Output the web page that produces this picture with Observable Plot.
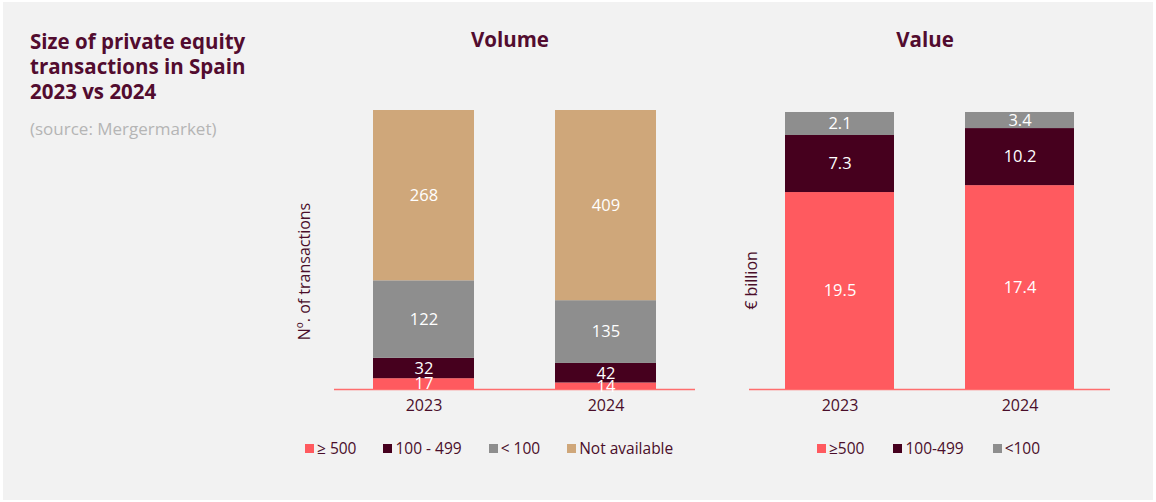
<!DOCTYPE html>
<html><head><meta charset="utf-8">
<script src="https://cdn.jsdelivr.net/npm/d3@7"></script>
<script src="https://cdn.jsdelivr.net/npm/@observablehq/plot@0.6"></script>
<style>
body{margin:0;background:#fff;font-family:"Open Sans",sans-serif;}
#wrap{position:relative;width:1156px;height:502px;overflow:hidden;}
#bg{position:absolute;left:3px;top:2px;width:1150px;height:498px;background:#f2f2f2;}
.abs{position:absolute;}
#title{left:30px;top:29px;font-size:20.5px;line-height:25px;font-weight:700;color:#520c2f;}
#source{left:30px;top:119px;font-size:17px;line-height:20px;color:#b5b5b5;}
.ptitle{width:200px;text-align:center;top:29px;font-size:20.5px;line-height:20.5px;font-weight:700;color:#520c2f;}
.legend{top:439px;display:flex;font-size:15.5px;line-height:18px;color:#4a0e2a;}
.legend .item{display:flex;align-items:center;gap:3px;white-space:nowrap;}
.legend .sw{width:9px;height:9px;display:inline-block;}
.panel svg{display:block;overflow:visible;}
</style></head><body>
<div id="wrap">
  <div id="bg"></div>
  <div id="title" class="abs">Size of private equity<br>transactions in Spain<br>2023 vs 2024</div>
  <div id="source" class="abs">(source: Mergermarket)</div>
  <div class="abs ptitle" style="left:410px;">Volume</div>
  <div class="abs ptitle" style="left:825px;">Value</div>
  <div id="volPlot" class="abs panel" style="left:290px;top:100px;"></div>
  <div id="valPlot" class="abs panel" style="left:705px;top:100px;"></div>
  <div id="volLegend" class="abs legend" style="left:305px;gap:27px;"></div>
  <div id="valLegend" class="abs legend" style="left:817px;gap:29px;"></div>
</div>
<script>
// ---- data ----
const years = ["2023", "2024"];
const volumeCategories = ["≥ 500", "100 - 499", "< 100", "Not available"];
const volume2023 = [17, 32, 122, 268];
const volume2024 = [14, 42, 135, 409];
const valueCategories = ["≥500", "100-499", "<100"];
const value2023 = [19.5, 7.3, 2.1];   // printed labels (€ billion)
const value2024 = [17.4, 10.2, 3.4];
// share of each bar as drawn in the picture (%)
const valueShare2023 = [71.1, 20.6, 8.3];
const valueShare2024 = [73.6, 20.6, 5.8];
const sizeColors = ["#ff5a5f", "#46001e", "#8e8e8e", "#cfa77a"];

const textColor = "#4a0e2a";

const volumeRows = [];
[volume2023, volume2024].forEach((vals, i) => vals.forEach((v, j) =>
  volumeRows.push({year: years[i], cat: volumeCategories[j], v, label: String(v)})));
const valueRows = [];
[[valueShare2023, value2023], [valueShare2024, value2024]].forEach(([sh, vals], i) => sh.forEach((s, j) =>
  valueRows.push({year: years[i], cat: valueCategories[j], v: s, label: vals[j].toFixed(1)})));

function stackedPanel({rows, cats, yLabel, labelDx, labelDy, marginTop, paddingInner, paddingOuter}) {
  return Plot.plot({
    width: 415, height: 319,
    marginLeft: 44, marginRight: 10, marginTop, marginBottom: 30,
    style: {background: "transparent", fontFamily: "'Open Sans', sans-serif", fontSize: "16px", color: textColor, overflow: "visible"},
    x: {domain: years, paddingInner, paddingOuter, label: null},
    y: {domain: [0, 1], axis: null},
    color: {domain: cats, range: sizeColors.slice(0, cats.length)},
    marks: [
      Plot.ruleY([0], {stroke: "#ff6e6e", strokeWidth: 1.5}),
      Plot.barY(rows, Plot.stackY({x: "year", y: "v", z: "cat", fill: "cat", offset: "normalize"})),
      Plot.text(rows, Plot.stackY({x: "year", y: "v", z: "cat", offset: "normalize", text: "label", fill: "white", fontSize: 16.5})),
      Plot.axisX({tickSize: 0, tickPadding: 10, fontSize: 16, color: textColor, label: null}),
      Plot.text([yLabel], {frameAnchor: "left", textAnchor: "middle", rotate: -90, dx: labelDx, dy: labelDy, fill: textColor, fontSize: 16})
    ]
  });
}

document.getElementById("volPlot").append(stackedPanel({
  rows: volumeRows, cats: volumeCategories, yLabel: "Nº. of transactions",
  labelDx: -30, labelDy: 21.5, marginTop: 10, paddingInner: 0.443, paddingOuter: 0.208
}));
document.getElementById("valPlot").append(stackedPanel({
  rows: valueRows, cats: valueCategories, yLabel: "€ billion",
  labelDx: 2.5, labelDy: 29.5, marginTop: 12, paddingInner: 0.393, paddingOuter: 0.196
}));

function legend(el, cats) {
  cats.forEach((c, i) => {
    const item = document.createElement("div");
    item.className = "item";
    const sw = document.createElement("span");
    sw.className = "sw";
    sw.style.background = sizeColors[i];
    const t = document.createElement("span");
    t.textContent = c;
    item.append(sw, t);
    el.append(item);
  });
}
legend(document.getElementById("volLegend"), volumeCategories);
legend(document.getElementById("valLegend"), valueCategories);
</script>
</body></html>
